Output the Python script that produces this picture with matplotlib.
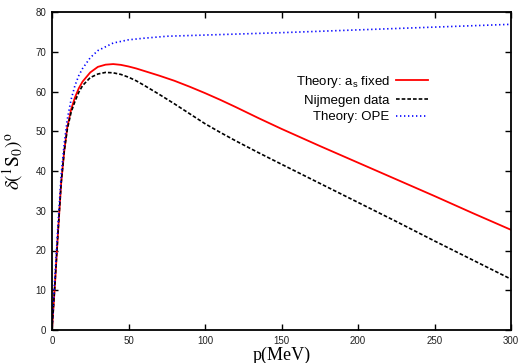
import matplotlib
matplotlib.use("Agg")
import matplotlib.pyplot as plt
import numpy as np

# Data
p_red = [0, 2, 4, 6, 8, 10, 12.5, 15, 17.5, 20, 25, 30, 35, 40, 45, 50, 55, 60, 70, 80, 90, 100,
         110, 120, 135, 150, 175, 200, 225, 250, 275, 300]
d_red = [0, 12, 25, 37, 45, 51, 55.5, 58.5, 60.8, 62.5, 64.8, 66.2, 66.75, 66.9, 66.7, 66.3, 65.8, 65.2,
         64.0, 62.7, 61.2, 59.6, 57.9, 56.1, 53.3, 50.6, 46.3, 42.1, 37.9, 33.7, 29.4, 25.2]

p_blk = [0, 2, 4, 6, 8, 10, 12.5, 15, 17.5, 20, 25, 30, 35, 40, 45, 50, 55, 60, 70, 80, 90, 100,
         110, 120, 135, 150, 175, 200, 225, 250, 275, 300]
d_blk = [0, 12, 25, 37, 45, 50.5, 54.8, 57.5, 59.8, 61.5, 63.5, 64.4, 64.8, 64.7, 64.3, 63.6, 62.7, 61.6,
         59.3, 56.9, 54.4, 51.9, 49.7, 47.6, 44.6, 41.7, 36.9, 32.1, 27.3, 22.4, 17.6, 12.8]

p_blu = [0, 1, 2, 4, 6, 8, 10, 12.5, 15, 17.5, 20, 25, 30, 40, 50, 60, 75, 100, 150, 200, 250, 300]
d_blu = [0, 8, 14, 27, 39, 47, 53, 58, 61.5, 64.0, 65.8, 68.5, 70.3, 72.2, 73.0, 73.4, 73.9, 74.2, 74.8, 75.5, 76.2, 76.9]

labels = ["Theory: a$_\\mathrm{s}$ fixed", "Nijmegen data", "Theory: OPE"]
xticks = [0, 50, 100, 150, 200, 250, 300]
yticks = [0, 10, 20, 30, 40, 50, 60, 70, 80]

plt.rcParams['font.family'] = ['Liberation Sans', 'DejaVu Sans']
plt.rcParams['mathtext.fontset'] = 'custom'
plt.rcParams['mathtext.rm'] = 'Liberation Sans'
plt.rcParams['mathtext.it'] = 'Liberation Sans:italic'

W, H = 519, 363
fig = plt.figure(figsize=(W/100, H/100), dpi=100)
ax = fig.add_axes([52/W, 1-330/H, (511-52)/W, (330-12)/H])

ax.plot(p_red, d_red, color='#ff0000', lw=1.3, label=labels[0])
ax.plot(p_blk, d_blk, color='black', lw=1.2, dashes=(2.2, 1.2), label=labels[1])
ax.plot(p_blu, d_blu, color='#0000ff', lw=1.2, dashes=(0.8, 1.6), label=labels[2])

ax.set_xlim(0, 300)
ax.set_ylim(0, 80)
ax.set_xticks(xticks)
ax.set_yticks(yticks)
ax.tick_params(direction='in', top=True, right=True, length=4, width=1, labelsize=7, pad=4,
               labelcolor='#222222')
for s in ax.spines.values():
    s.set_linewidth(1.3)

serif = {'family': ['Liberation Serif', 'DejaVu Serif'], 'size': 13}
ax.set_xlabel('p(MeV)', fontdict=serif, labelpad=1)
ax.set_ylabel(r'$\delta(^{1}\mathrm{S}_{0})^{\mathrm{o}}$', fontsize=14)
ax.yaxis.label.set_math_fontfamily('stix')
ax.yaxis.set_label_coords(-0.058, 0.53)

leg = ax.legend(loc='upper right', bbox_to_anchor=(0.819, 0.806), frameon=False,
                markerfirst=False, fontsize=9.5, handlelength=2.4, handletextpad=0.5,
                labelspacing=0.35, borderaxespad=0, borderpad=0)

fig.savefig('out.png', dpi=100)
